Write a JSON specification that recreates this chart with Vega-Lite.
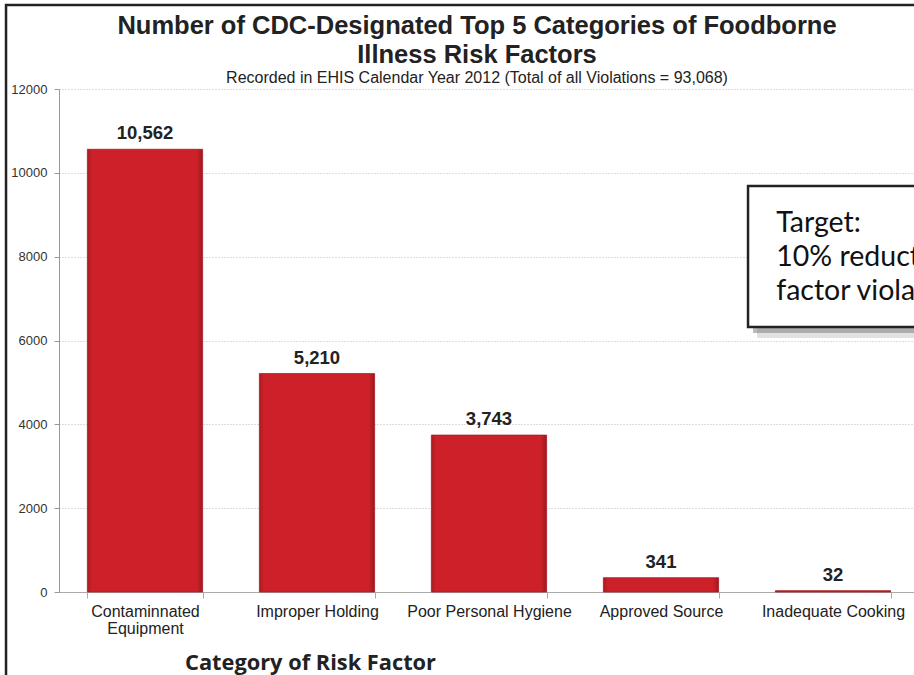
{
  "$schema": "https://vega.github.io/schema/vega-lite/v6.json",
  "autosize": "none",
  "width": 860,
  "height": 503,
  "padding": {"left": 59, "top": 89, "right": 0, "bottom": 83},
  "background": "white",
  "config": {"view": {"stroke": null}, "font": "Liberation Sans"},
  "title": {
    "text": ["Number of CDC-Designated Top 5 Categories of Foodborne", "Illness Risk Factors"],
    "subtitle": "Recorded in EHIS Calendar Year 2012 (Total of all Violations = 93,068)",
    "anchor": "middle",
    "frame": "group",
    "dx": -12,
    "font": "Liberation Sans",
    "fontSize": 25.5,
    "fontWeight": "bold",
    "color": "#222222",
    "lineHeight": 29,
    "subtitleFont": "Liberation Sans",
    "subtitleFontSize": 16,
    "subtitleColor": "#222222",
    "subtitlePadding": 1,
    "offset": -82
  },
  "datasets": {
    "bars": [
      {"category": "Contaminnated Equipment", "count": 10562},
      {"category": "Improper Holding", "count": 5210},
      {"category": "Poor Personal Hygiene", "count": 3743},
      {"category": "Approved Source", "count": 341},
      {"category": "Inadequate Cooking", "count": 32}
    ]
  },
  "resolve": {"scale": {"x": "independent"}, "axis": {"x": "independent"}},
  "layer": [
    {
      "data": {"values": [{}]},
      "mark": {"type": "rect", "fillOpacity": 0, "stroke": "#222222", "strokeWidth": 2.5, "clip": false},
      "encoding": {
        "x": {"datum": -0.308, "type": "quantitative", "scale": {"domain": [0, 5], "nice": false, "zero": false}, "axis": null},
        "x2": {"datum": 6},
        "y": {"datum": 14004, "type": "quantitative", "scale": {"domain": [0, 12000], "nice": false}},
        "y2": {"datum": -4000}
      }
    },
    {
      "data": {"name": "bars"},
      "layer": [
        {
          "mark": {
            "type": "bar",
            "color": {
              "gradient": "linear", "x1": 0, "x2": 1, "y1": 0, "y2": 0,
              "stops": [
                {"offset": 0, "color": "#A81C22"},
                {"offset": 0.04, "color": "#CC2129"},
                {"offset": 0.95, "color": "#CC2129"},
                {"offset": 1, "color": "#9A1A1F"}
              ]
            },
            "stroke": "#A51C22",
            "strokeWidth": 0.8
          },
          "encoding": {
            "x": {
              "field": "category", "type": "nominal", "sort": null,
              "scale": {"paddingInner": 0.33, "paddingOuter": 0.165},
              "axis": {
                "title": "Category of Risk Factor",
                "titleFont": "Open Sans",
                "titleFontSize": 21.8,
                "titleFontWeight": "bold",
                "titleColor": "#222222",
                "titleX": 251,
                "titleY": 77,
                "titleAlign": "center",
                "titleAnchor": null,
                "titleBaseline": "alphabetic",
                "labelAngle": 0,
                "labelFont": "Liberation Sans",
                "labelFontSize": 16,
                "labelColor": "#222222",
                "labelPadding": 5,
                "labelLineHeight": 17,
                "labelLimit": 300,
                "labelExpr": "datum.label == 'Contaminnated Equipment' ? ['Contaminnated', 'Equipment'] : datum.label",
                "tickBand": "extent",
                "tickSize": 6,
                "tickColor": "#aaaaaa",
                "domainColor": "#aaaaaa",
                "grid": false
              }
            },
            "y": {
              "field": "count", "type": "quantitative",
              "scale": {"domain": [0, 12000], "nice": false},
              "axis": {
                "title": null,
                "values": [0, 2000, 4000, 6000, 8000, 10000, 12000],
                "format": "d",
                "labelFont": "Liberation Sans",
                "labelFontSize": 13,
                "labelColor": "#333333",
                "labelPadding": 7,
                "tickSize": 5,
                "tickColor": "#999999",
                "domainColor": "#999999",
                "grid": true,
                "gridColor": "#bbbbbb",
                "gridDash": [1, 2],
                "gridWidth": 1
              }
            }
          }
        },
        {
          "mark": {"type": "text", "dy": -10, "baseline": "alphabetic", "font": "Liberation Sans", "fontSize": 18.5, "fontWeight": "bold", "color": "#222222"},
          "encoding": {
            "x": {"field": "category", "type": "nominal", "sort": null},
            "y": {"field": "count", "type": "quantitative"},
            "text": {"field": "count", "type": "quantitative", "format": ","}
          }
        }
      ]
    },
    {
      "data": {"values": [{}]},
      "mark": {"type": "rect", "fill": "#888888", "opacity": 0.25, "xOffset": 9, "yOffset": 11, "x2Offset": 9, "y2Offset": 11},
      "encoding": {
        "x": {"datum": 4.006, "type": "quantitative", "scale": {"domain": [0, 5], "nice": false, "zero": false}, "axis": null},
        "x2": {"datum": 6},
        "y": {"datum": 9686, "type": "quantitative"},
        "y2": {"datum": 6322}
      }
    },
    {
      "data": {"values": [{}]},
      "mark": {"type": "rect", "fill": "#777777", "opacity": 0.5, "xOffset": 5, "yOffset": 6, "x2Offset": 5, "y2Offset": 6},
      "encoding": {
        "x": {"datum": 4.006, "type": "quantitative", "scale": {"domain": [0, 5], "nice": false, "zero": false}, "axis": null},
        "x2": {"datum": 6},
        "y": {"datum": 9686, "type": "quantitative"},
        "y2": {"datum": 6322}
      }
    },
    {
      "data": {"values": [{}]},
      "mark": {"type": "rect", "fill": "white", "stroke": "#222222", "strokeWidth": 2.5},
      "encoding": {
        "x": {"datum": 4.006, "type": "quantitative", "scale": {"domain": [0, 5], "nice": false, "zero": false}, "axis": null},
        "x2": {"datum": 6},
        "y": {"datum": 9686, "type": "quantitative"},
        "y2": {"datum": 6322}
      }
    },
    {
      "data": {"values": [{}]},
      "mark": {
        "type": "text",
        "text": ["Target:", "10% reduction in risk", "factor violations"],
        "align": "left",
        "baseline": "alphabetic",
        "font": "Lato",
        "fontSize": 28.5,
        "lineHeight": 34,
        "color": "#111111"
      },
      "encoding": {
        "x": {"datum": 4.17, "type": "quantitative", "scale": {"domain": [0, 5], "nice": false, "zero": false}, "axis": null},
        "y": {"datum": 8588, "type": "quantitative"}
      }
    }
  ]
}
